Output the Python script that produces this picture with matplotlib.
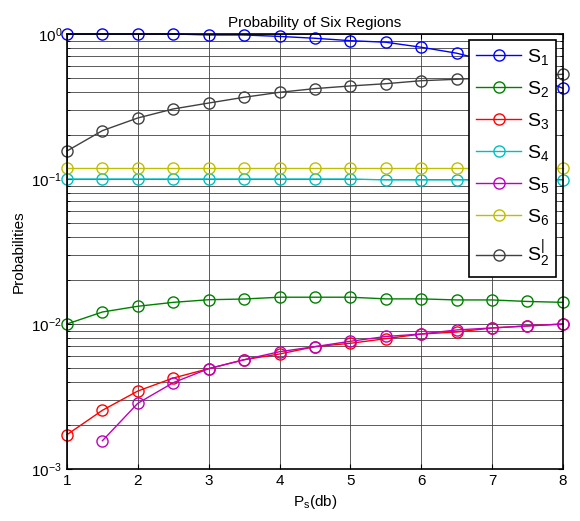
import matplotlib
matplotlib.use("Agg")
import matplotlib.pyplot as plt
from matplotlib.ticker import LogLocator, NullFormatter

plt.rcParams['font.family'] = ['Liberation Sans', 'DejaVu Sans']
plt.rcParams['mathtext.fontset'] = 'custom'
plt.rcParams['mathtext.rm'] = 'Liberation Sans'
plt.rcParams['mathtext.it'] = 'Liberation Sans'

ps = [1, 1.5, 2, 2.5, 3, 3.5, 4, 4.5, 5, 5.5, 6, 6.5, 7, 7.5, 8]

s1 = [1.0, 1.0, 1.0, 1.0, 0.984, 0.984, 0.962, 0.934, 0.899, 0.877, 0.81, 0.737, 0.64, 0.53, 0.422]
s2 = [0.0100, 0.0121, 0.01325, 0.0141, 0.0147, 0.01487, 0.0153, 0.0153, 0.0153, 0.0149, 0.0149,
      0.01465, 0.01465, 0.0143, 0.0141]
s3 = [0.001725, 0.00254, 0.00345, 0.00424, 0.00492, 0.00567, 0.00621, 0.00698, 0.00736, 0.00792,
      0.00853, 0.0088, 0.00939, 0.0097, 0.0100]
s4 = [0.1, 0.1, 0.1, 0.1, 0.1, 0.1, 0.1, 0.1, 0.1, 0.0985, 0.0985, 0.0985, 0.0985, 0.0985, 0.0985]
ps5 = [1.5, 2, 2.5, 3, 3.5, 4, 4.5, 5, 5.5, 6, 6.5, 7, 7.5, 8]
s5 = [0.001567, 0.00284, 0.00394, 0.00492, 0.00567, 0.00644, 0.00698, 0.0076, 0.0082, 0.00853,
      0.0091, 0.00939, 0.0097, 0.0100]
s6 = [0.1186] * 15
s2p = [0.156, 0.2155, 0.2635, 0.304, 0.334, 0.366, 0.396, 0.42, 0.438, 0.454, 0.476, 0.487,
       0.50, 0.515, 0.527]

labels = [r'$\mathregular{S_1}$', r'$\mathregular{S_2}$', r'$\mathregular{S_3}$',
          r'$\mathregular{S_4}$', r'$\mathregular{S_5}$', r'$\mathregular{S_6}$',
          r'$\mathregular{S_2^{|}}$']
colors = ['#0000ff', '#008000', '#ff0000', '#00bfbf', '#bf00bf', '#bfbf00', '#404040']
series = [(ps, s1), (ps, s2), (ps, s3), (ps, s4), (ps5, s5), (ps, s6), (ps, s2p)]

fig = plt.figure(figsize=(5.8, 5.21), dpi=100)
ax = fig.add_axes([0.1155, 0.0998, 0.855, 0.835])

for (x, y), c, lab in zip(series, colors, labels):
    ax.plot(x, y, '-o', color=c, lw=1, ms=8, mfc='none', mew=1, label=lab, clip_on=False)

ax.set_yscale('log')
ax.set_xlim(1, 8)
ax.set_ylim(1e-3, 1)
ax.set_xticks(range(1, 9))
ax.yaxis.set_minor_locator(LogLocator(base=10, subs=range(2, 10)))
ax.yaxis.set_minor_formatter(NullFormatter())
ax.grid(True, which='major', color='#404040', lw=0.6)
ax.grid(True, which='minor', axis='y', color='#404040', lw=0.6)
ax.tick_params(which='both', direction='in', top=True, right=True, labelsize=11)
for sp in ax.spines.values():
    sp.set_linewidth(1.2)

ax.set_title('Probability of Six Regions', fontsize=11, pad=5)
ax.set_xlabel(r'$\mathregular{P_s}$(db)', fontsize=11)
ax.set_ylabel('Probabilities', fontsize=11)

leg = ax.legend(loc='upper right', bbox_to_anchor=(0.986, 0.986), fontsize=14, fancybox=False,
                framealpha=1, edgecolor='black', borderpad=0.35, labelspacing=0.62,
                handlelength=2.3, handletextpad=0.3, borderaxespad=0)
leg.get_frame().set_linewidth(1.2)

fig.savefig('out.png', dpi=100)
